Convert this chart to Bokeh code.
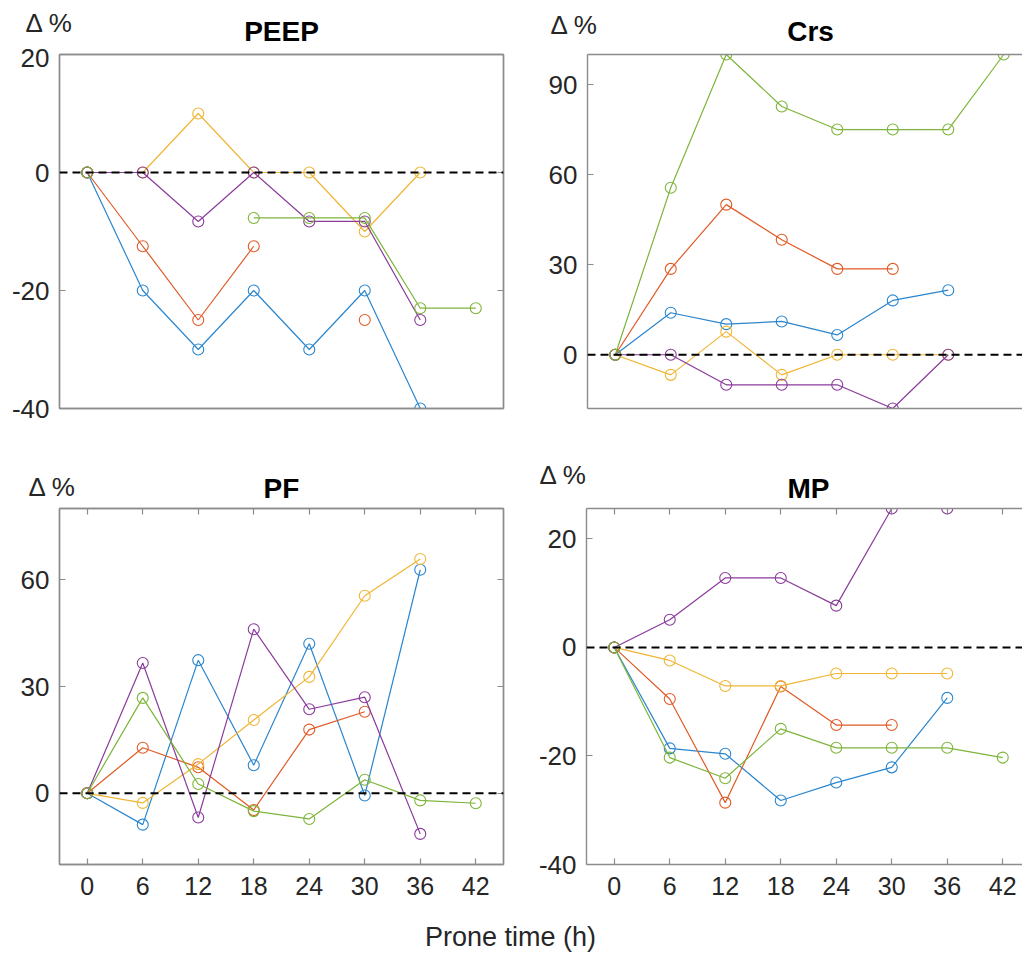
from bokeh.plotting import figure
from bokeh.models import Range1d, LinearAxis, FixedTicker, Span, Label
from bokeh.layouts import column, row
from bokeh.embed import file_html
from bokeh.resources import INLINE

nan = float("nan")

# ---------------- data ----------------
hours = [0, 6, 12, 18, 24, 30, 36, 42]
x_ticks = [0, 6, 12, 18, 24, 30, 36, 42]
x_tick_labels = ["0", "6", "12", "18", "24", "30", "36", "42"]
panel_titles = ["PEEP", "Crs", "PF", "MP"]
x_title = "Prone time (h)"
y_title = "\u0394 %"

# patient colours (MATLAB default order)
colors = ["#2A86CE", "#E05A26", "#F0B533", "#8A3B9B", "#7DB53A"]

peep_p1 = [0, -20, -30, -20, -30, -20, -40, nan]
peep_p2 = [0, -12.5, -25, -12.5, nan, -25, nan, nan]
peep_p3 = [0, 0, 10, 0, 0, -10, 0, nan]
peep_p4 = [0, 0, -8.3, 0, -8.3, -8.3, -25, nan]
peep_p5 = [0, nan, nan, -7.7, -7.7, -7.7, -23, -23]
peep_yticks = [-40, -20, 0, 20]
peep_ytick_labels = ["-40", "-20", "0", "20"]

crs_p1 = [0, 14.0, 10.2, 11.1, 6.6, 18.1, 21.5, nan]
crs_p2 = [0, 28.6, 50, 38.3, 28.6, 28.6, nan, nan]
crs_p3 = [0, -6.7, 7.7, -6.7, 0, 0, 0, nan]
crs_p4 = [0, 0, -10, -10, -10, -17.9, 0, nan]
crs_p5 = [0, 55.6, 100, 82.7, 75, 75, 75, 100]
crs_yticks = [0, 30, 60, 90]
crs_ytick_labels = ["0", "30", "60", "90"]

pf_p1 = [0, -8.8, 37.4, 7.9, 42.0, -0.6, 62.8, nan]
pf_p2 = [0, 12.8, 7.3, -4.7, 17.9, 22.9, nan, nan]
pf_p3 = [0, -2.7, 8.2, 20.6, 32.7, 55.5, 65.8, nan]
pf_p4 = [0, 36.6, -6.8, 46.1, 23.6, 27.0, -11.4, nan]
pf_p5 = [0, 26.8, 2.6, -5.0, -7.2, 3.8, -2.0, -2.8]
pf_yticks = [0, 30, 60]
pf_ytick_labels = ["0", "30", "60"]

mp_p1 = [0, -18.6, -19.6, -28.2, -24.9, -22.1, -9.3, nan]
mp_p2 = [0, -9.5, -28.6, -7.2, -14.3, -14.3, nan, nan]
mp_p3 = [0, -2.4, -7.1, -7.1, -4.8, -4.8, -4.8, nan]
mp_p4 = [0, 5.1, 12.8, 12.8, 7.7, 25.6, 25.6, nan]
mp_p5 = [0, -20.3, -24.1, -15.0, -18.5, -18.5, -18.5, -20.3]
mp_yticks = [-40, -20, 0, 20]
mp_ytick_labels = ["-40", "-20", "0", "20"]

# ---------------- styling ----------------
FONT = "Liberation Sans"
AXC = "#8c8c8c"
TXT = "#262626"
SCALE_X = 9.25  # px per hour
PAGE_W = 1022
BASE_FIX = 11   # measured offset of Bokeh's label anchor vs. the glyph baseline


def style_axis(ax, ticks, labels=None, size="24px", standoff=10):
    ax.ticker = FixedTicker(ticks=ticks)
    ax.axis_line_color = AXC
    ax.axis_line_width = 1.4
    ax.major_tick_in = 6
    ax.major_tick_out = 0
    ax.minor_tick_in = 0
    ax.minor_tick_out = 0
    ax.major_tick_line_color = AXC
    ax.major_tick_line_width = 1.2
    ax.minor_tick_line_color = None
    ax.axis_label_standoff = 0
    if labels is not None:
        ax.major_label_overrides = {t: s for t, s in zip(ticks, labels)}
        ax.major_label_text_font = FONT
        ax.major_label_text_font_size = size
        ax.major_label_text_color = TXT
        ax.major_label_standoff = standoff
    else:
        ax.major_label_text_color = None
        ax.major_label_text_font_size = "1px"
        ax.major_label_standoff = 0


def make_panel(cfg, series, yticks, ylabels, left_col, bottom_row):
    W, H = cfg["size"]
    mbl, mbt, FW, FH = cfg["frame"]
    x0 = -3
    x1 = x0 + FW / SCALE_X
    y0, y1 = cfg["yr"]
    mbr = W - mbl - FW
    mbb = H - mbt - FH
    p = figure(width=W, height=H, x_range=Range1d(x0, x1), y_range=Range1d(y0, y1),
               output_backend="svg", toolbar_location=None, title=None,
               x_axis_location=None, y_axis_location=None,
               min_border_left=mbl, min_border_top=mbt,
               min_border_right=mbr, min_border_bottom=mbb,
               background_fill_color="white", border_fill_color="white")
    for g in p.grid:
        g.visible = False
    p.outline_line_color = AXC if left_col else None
    p.outline_line_width = 1.4

    la = LinearAxis()
    style_axis(la, yticks, ylabels, size="26px", standoff=10)
    p.add_layout(la, "left")
    if left_col:
        ra = LinearAxis()
        style_axis(ra, yticks)
        p.add_layout(ra, "right")
    ba = LinearAxis()
    style_axis(ba, x_ticks if bottom_row else [],
               x_tick_labels if bottom_row else None, size="25px", standoff=12)
    p.add_layout(ba, "below")
    ta = LinearAxis()
    style_axis(ta, x_ticks if bottom_row else [])
    p.add_layout(ta, "above")

    for ys, c in zip(series, colors):
        p.line(hours, ys, line_color=c, line_width=1.2)
        p.scatter(hours, ys, marker="circle", size=11, fill_color=None,
                  line_color=c, line_width=1.1)

    p.add_layout(Span(location=0, dimension="width", line_color="black",
                      line_width=2, line_dash="8 5"))
    return p


def text_strip(height):
    h = figure(width=PAGE_W, height=height, x_range=Range1d(0, PAGE_W),
               y_range=Range1d(0, height), output_backend="svg",
               toolbar_location=None, title=None, x_axis_location=None,
               y_axis_location=None, min_border=0, outline_line_color=None)
    for g in h.grid:
        g.visible = False
    return h


def header_strip(height, titles, ylabs):
    h = text_strip(height)
    for text, (sx, sy) in titles:
        h.add_layout(Label(x=sx, y=height - sy + BASE_FIX, text=text, text_align="center",
                           text_baseline="alphabetic", text_font=FONT,
                           text_font_size="28px", text_font_style="bold",
                           text_color="black"))
    for sx, sy in ylabs:
        h.add_layout(Label(x=sx, y=height - sy + BASE_FIX, text=y_title, text_align="left",
                           text_baseline="alphabetic", text_font=FONT,
                           text_font_size="26px", text_color=TXT))
    return h


# layout (page has no margin): widths 522 + 500 = 1022
LW, RW = 522, 500
H_HEAD1, H_ROW1, H_HEAD2, H_ROW2, H_FOOT = 48, 407, 50, 407, 45

# baselines are measured from the top of each strip
head1 = header_strip(H_HEAD1, [(panel_titles[0], (281, 42)), (panel_titles[1], (810, 42))],
                     [(25, 33), (550, 35)])
# frame: (left border, top border, frame width, frame height)
p_peep = make_panel(dict(size=(LW, H_ROW1), frame=(59, 6, 444, 354), yr=(-40, 20)),
                    [peep_p1, peep_p2, peep_p3, peep_p4, peep_p5],
                    peep_yticks, peep_ytick_labels, True, False)
p_crs = make_panel(dict(size=(RW, H_ROW1), frame=(65, 6, 435, 354), yr=(-17.9, 100)),
                   [crs_p1, crs_p2, crs_p3, crs_p4, crs_p5],
                   crs_yticks, crs_ytick_labels, False, False)

head2 = header_strip(H_HEAD2, [(panel_titles[2], (281, 44)), (panel_titles[3], (808, 44))],
                     [(28, 42), (539, 30)])
p_pf = make_panel(dict(size=(LW, H_ROW2), frame=(59, 3, 444, 356), yr=(-20, 80)),
                  [pf_p1, pf_p2, pf_p3, pf_p4, pf_p5],
                  pf_yticks, pf_ytick_labels, True, True)
p_mp = make_panel(dict(size=(RW, H_ROW2), frame=(64, 3, 436, 356), yr=(-40, 25.6)),
                  [mp_p1, mp_p2, mp_p3, mp_p4, mp_p5],
                  mp_yticks, mp_ytick_labels, False, True)

foot = text_strip(H_FOOT)
foot.add_layout(Label(x=510, y=H_FOOT - 35 + BASE_FIX, text=x_title, text_align="center",
                      text_baseline="alphabetic", text_font=FONT,
                      text_font_size="27px", text_color=TXT))

layout = column(head1, row(p_peep, p_crs), head2, row(p_pf, p_mp), foot)
open("out.html", "w").write(file_html(layout, INLINE))
